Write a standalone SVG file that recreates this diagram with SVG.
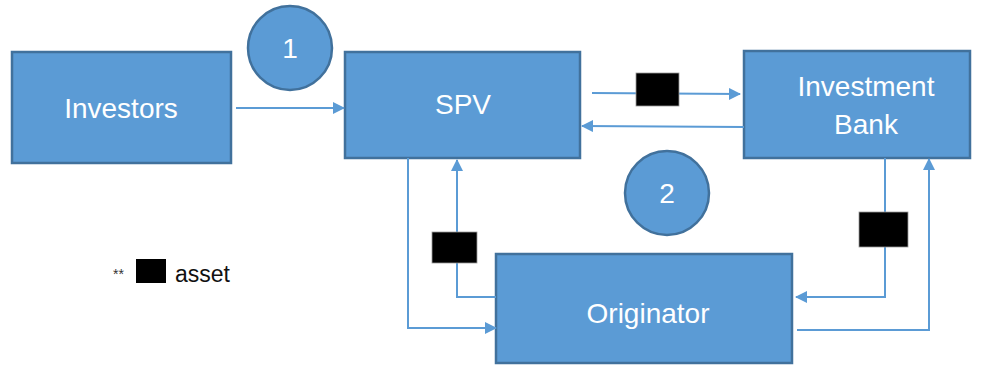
<svg xmlns="http://www.w3.org/2000/svg" width="983" height="373" viewBox="0 0 983 373">
<style>
.box{fill:#5B9BD5;stroke:#41719C;stroke-width:2.5}
.lbl{font-family:"Liberation Sans",Arial,sans-serif;font-size:28px;fill:#fff;text-anchor:middle}
.ln{fill:none;stroke:#5B9BD5;stroke-width:2}
.blk{fill:#000;stroke:#999;stroke-width:0.8}
</style>
<defs>
<marker id="ah" markerWidth="12" markerHeight="12" refX="11" refY="6" orient="auto" markerUnits="userSpaceOnUse">
<path d="M0,0 L12,6 L0,12 z" fill="#5B9BD5"/>
</marker>
</defs>
<rect width="983" height="373" fill="#fff"/>
<g id="investors"><rect class="box" x="12" y="52" width="219" height="111"/><text class="lbl" x="121" y="118">Investors</text></g>
<g id="spv"><rect class="box" x="345" y="52" width="235" height="106"/><text class="lbl" x="463" y="114">SPV</text></g>
<g id="bank"><rect class="box" x="744" y="51" width="226" height="107"/><text class="lbl" x="866" y="96">Investment</text><text class="lbl" x="866" y="134">Bank</text></g>
<g id="originator"><rect class="box" x="496" y="254" width="296" height="109"/><text class="lbl" x="648" y="323">Originator</text></g>
<g id="step1"><circle class="box" cx="290" cy="48" r="42"/><text class="lbl" x="290" y="58">1</text></g>
<g id="step2"><circle class="box" cx="667" cy="193" r="42"/><text class="lbl" x="667" y="203">2</text></g>
<g id="connectors">
<line class="ln" x1="236" y1="108" x2="344" y2="108" marker-end="url(#ah)"/>
<line class="ln" x1="592" y1="93" x2="740" y2="94" marker-end="url(#ah)"/>
<line class="ln" x1="744" y1="127" x2="582" y2="126" marker-end="url(#ah)"/>
<polyline class="ln" points="408,158 408,328 496,328" marker-end="url(#ah)"/>
<polyline class="ln" points="496,297 457,297 457,160" marker-end="url(#ah)"/>
<polyline class="ln" points="885,158 885,297 796,297" marker-end="url(#ah)"/>
<polyline class="ln" points="797,330 929,330 929,159" marker-end="url(#ah)"/>
</g>
<g id="assets">
<rect class="blk" x="636" y="73" width="43" height="33"/>
<rect class="blk" x="432" y="232" width="45" height="31"/>
<rect class="blk" x="859" y="212" width="49" height="35"/>
</g>
<g id="legend">
<text x="113" y="279" font-family="'Liberation Sans',Arial,sans-serif" font-size="14" fill="#333">**</text>
<rect x="136" y="259" width="30" height="24" fill="#000"/>
<text x="175" y="282" font-family="'Liberation Sans',Arial,sans-serif" font-size="23" fill="#111">asset</text>
</g>
</svg>
